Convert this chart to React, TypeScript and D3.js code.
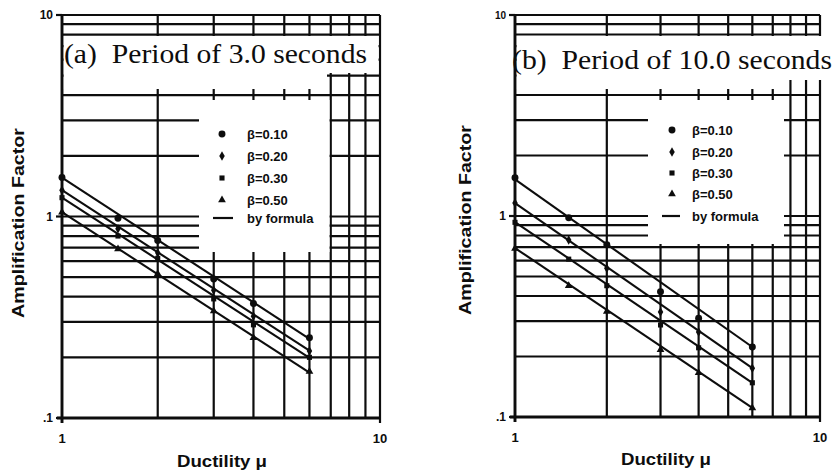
import React from "react";
import * as d3 from "d3";

// ---------- data ----------
const ductility = [1, 1.5, 2, 3, 4, 6];
const betaLabels = ["β=0.10", "β=0.20", "β=0.30", "β=0.50"];
const formulaLabel = "by formula";
const xTickValues = [1, 10];
const xTickLabels = ["1", "10"];
const yTickValues = [0.1, 1, 10];
const yTickLabels = [".1", "1", "10"];
const gridX = [1, 2, 3, 4, 5, 6, 7, 8, 9, 10];
const gridY = [0.1, 0.2, 0.3, 0.4, 0.5, 0.6, 0.7, 0.8, 0.9, 1, 2, 3, 4, 5, 6, 7, 8, 9, 10];

// Panel (a): period 3.0 s — measured points per damping ratio
const a_beta010 = [1.56, 0.98, 0.76, 0.49, 0.37, 0.25];
const a_beta020 = [1.35, 0.87, 0.66, 0.43, 0.32, 0.215];
const a_beta030 = [1.24, 0.8, 0.62, 0.39, 0.29, 0.2];
const a_beta050 = [1.05, 0.69, 0.52, 0.34, 0.25, 0.17];
// formula lines: value at mu=1 and at mu=6
const a_formulaStart = [1.56, 1.35, 1.24, 1.05];
const a_formulaEnd = [0.247, 0.216, 0.199, 0.168];

// Panel (b): period 10.0 s
const b_beta010 = [1.55, 0.98, 0.72, 0.42, 0.31, 0.223];
const b_beta020 = [1.16, 0.76, 0.55, 0.333, 0.265, 0.175];
const b_beta030 = [0.93, 0.61, 0.45, 0.287, 0.221, 0.148];
const b_beta050 = [0.69, 0.45, 0.335, 0.216, 0.166, 0.111];
const b_formulaStart = [1.52, 1.16, 0.933, 0.693];
const b_formulaEnd = [0.223, 0.175, 0.148, 0.111];

const titleA = "(a)  Period of 3.0 seconds";
const titleB = "(b)  Period of 10.0 seconds";
const yLabel = "Amplification Factor";
const xLabel = "Ductility μ";

const symbols = [d3.symbolCircle, d3.symbolDiamond, d3.symbolSquare, d3.symbolTriangle];
const symbolSizes = [38, 26, 26, 26];

const SANS = "'Liberation Sans', Arial, Helvetica, sans-serif";
const SERIF = "'Liberation Serif', 'Times New Roman', serif";
const INK = "#0d0d0d";

type Mask = { x: number; y: number; w: number; h: number };
type Cfg = {
  x0: number; x1: number; yTop: number; yBot: number;
  masks: Mask[];
  title: string; titleX: number; titleY: number; titleLen: number;
  yLabelX: number; yLabelY: number;
  xLabelX: number; xLabelY: number;
  legMarkX: number; legTextX: number; legRows: number[]; legLine: [number, number];
  topTickFont: number;
};

function Panel({ cfg, series, fStart, fEnd }: { cfg: Cfg; series: number[][]; fStart: number[]; fEnd: number[] }) {
  const x = d3.scaleLog().domain([1, 10]).range([cfg.x0, cfg.x1]);
  const y = d3.scaleLog().domain([0.1, 10]).range([cfg.yBot, cfg.yTop]);
  return (
    <g>
      {gridY.map((v, i) => (
        <line key={"gy" + i} x1={cfg.x0} x2={cfg.x1} y1={y(v)} y2={y(v)} stroke={INK} strokeWidth={2.2} />
      ))}
      {gridX.map((v, i) => (
        <line key={"gx" + i} x1={x(v)} x2={x(v)} y1={cfg.yTop} y2={cfg.yBot} stroke={INK} strokeWidth={2.2} />
      ))}
      {cfg.masks.map((m, i) => (
        <rect key={"m" + i} x={m.x} y={m.y} width={m.w} height={m.h} fill="#fff" />
      ))}
      {/* axes */}
      <line x1={cfg.x0} x2={cfg.x0} y1={cfg.yTop} y2={cfg.yBot + 5} stroke={INK} strokeWidth={2.8} />
      <line x1={cfg.x0 - 5} x2={cfg.x1} y1={cfg.yBot} y2={cfg.yBot} stroke={INK} strokeWidth={2.8} />
      {yTickValues.map((v, i) => (
        <g key={"yt" + i}>
          <line x1={cfg.x0 - 6} x2={cfg.x0} y1={y(v)} y2={y(v)} stroke={INK} strokeWidth={2.2} />
          <text
            x={cfg.x0 - 9}
            y={y(v)}
            dy="0.35em"
            textAnchor="end"
            fontFamily={SANS}
            fontWeight="bold"
            fontSize={i === 2 ? cfg.topTickFont : 12}
            fill={INK}
          >
            {yTickLabels[i]}
          </text>
        </g>
      ))}
      {xTickValues.map((v, i) => (
        <g key={"xt" + i}>
          <line x1={x(v)} x2={x(v)} y1={cfg.yBot} y2={cfg.yBot + 5} stroke={INK} strokeWidth={2.2} />
          <text x={x(v)} y={cfg.yBot + 25} textAnchor="middle" fontFamily={SANS} fontWeight="bold" fontSize={13} fill={INK}>
            {xTickLabels[i]}
          </text>
        </g>
      ))}
      {/* formula lines */}
      {fStart.map((v, i) => (
        <line
          key={"f" + i}
          x1={x(ductility[0])}
          y1={y(v)}
          x2={x(ductility[ductility.length - 1])}
          y2={y(fEnd[i])}
          stroke={INK}
          strokeWidth={2.1}
        />
      ))}
      {/* data points */}
      {series.map((s, si) =>
        s.map((v, j) => (
          <path
            key={"p" + si + "-" + j}
            d={d3.symbol().type(symbols[si]).size(symbolSizes[si])() || ""}
            transform={`translate(${x(ductility[j])},${y(v)})`}
            fill={INK}
          />
        ))
      )}
      {/* legend */}
      {betaLabels.map((lab, i) => (
        <g key={"lg" + i}>
          <path
            d={d3.symbol().type(symbols[i]).size(symbolSizes[i])() || ""}
            transform={`translate(${cfg.legMarkX},${cfg.legRows[i]})`}
            fill={INK}
          />
          <text x={cfg.legTextX} y={cfg.legRows[i]} dy="0.35em" fontFamily={SANS} fontWeight="bold" fontSize={13} fill={INK}>
            {lab}
          </text>
        </g>
      ))}
      <line x1={cfg.legLine[0]} x2={cfg.legLine[1]} y1={cfg.legRows[4]} y2={cfg.legRows[4]} stroke={INK} strokeWidth={2.2} />
      <text x={cfg.legTextX} y={cfg.legRows[4]} dy="0.35em" fontFamily={SANS} fontWeight="bold" fontSize={13} fill={INK}>
        {formulaLabel}
      </text>
      {/* title */}
      <text
        x={cfg.titleX}
        y={cfg.titleY}
        fontFamily={SERIF}
        fontSize={27}
        fill={INK}
        textLength={cfg.titleLen}
        lengthAdjust="spacingAndGlyphs"
        style={{ whiteSpace: "pre" }}
      >
        {cfg.title}
      </text>
      {/* axis labels */}
      <text
        transform={`translate(${cfg.yLabelX},${cfg.yLabelY}) rotate(-90)`}
        textAnchor="middle"
        dy="0.35em"
        fontFamily={SANS}
        fontWeight="bold"
        fontSize={17}
        fill={INK}
        textLength={190}
        lengthAdjust="spacingAndGlyphs"
      >
        {yLabel}
      </text>
      <text
        x={cfg.xLabelX}
        y={cfg.xLabelY}
        textAnchor="middle"
        fontFamily={SANS}
        fontWeight="bold"
        fontSize={16}
        fill={INK}
        textLength={90}
        lengthAdjust="spacingAndGlyphs"
      >
        {xLabel}
      </text>
    </g>
  );
}

const cfgA: Cfg = {
  x0: 62, x1: 380, yTop: 15, yBot: 418,
  masks: [
    { x: 63.5, y: 36, w: 315, h: 37 },
    { x: 63.5, y: 73, w: 263.5, h: 16 },
    { x: 199, y: 100, w: 130.5, h: 152 },
  ],
  title: titleA, titleX: 64, titleY: 63, titleLen: 303,
  yLabelX: 18, yLabelY: 223,
  xLabelX: 222, xLabelY: 467,
  legMarkX: 222, legTextX: 247, legRows: [134, 156, 178, 200, 218], legLine: [213, 233],
  topTickFont: 12,
};

const cfgB: Cfg = {
  x0: 515, x1: 820, yTop: 15, yBot: 417,
  masks: [
    { x: 516.5, y: 36, w: 320.5, h: 44 },
    { x: 516.5, y: 80, w: 270, h: 9 },
    { x: 648, y: 100, w: 136, h: 144 },
  ],
  title: titleB, titleX: 512, titleY: 69, titleLen: 320,
  yLabelX: 465, yLabelY: 220,
  xLabelX: 666, xLabelY: 465,
  legMarkX: 672, legTextX: 692, legRows: [130, 152, 173, 194, 216], legLine: [662, 680],
  topTickFont: 10,
};

export default function App() {
  return (
    <svg
      width={837}
      height={474}
      viewBox="0 0 837 474"
      style={{ position: "absolute", left: 0, top: 0, background: "#fff" }}
    >
      <rect x={0} y={0} width={837} height={474} fill="#fff" />
      <Panel cfg={cfgA} series={[a_beta010, a_beta020, a_beta030, a_beta050]} fStart={a_formulaStart} fEnd={a_formulaEnd} />
      <Panel cfg={cfgB} series={[b_beta010, b_beta020, b_beta030, b_beta050]} fStart={b_formulaStart} fEnd={b_formulaEnd} />
    </svg>
  );
}
